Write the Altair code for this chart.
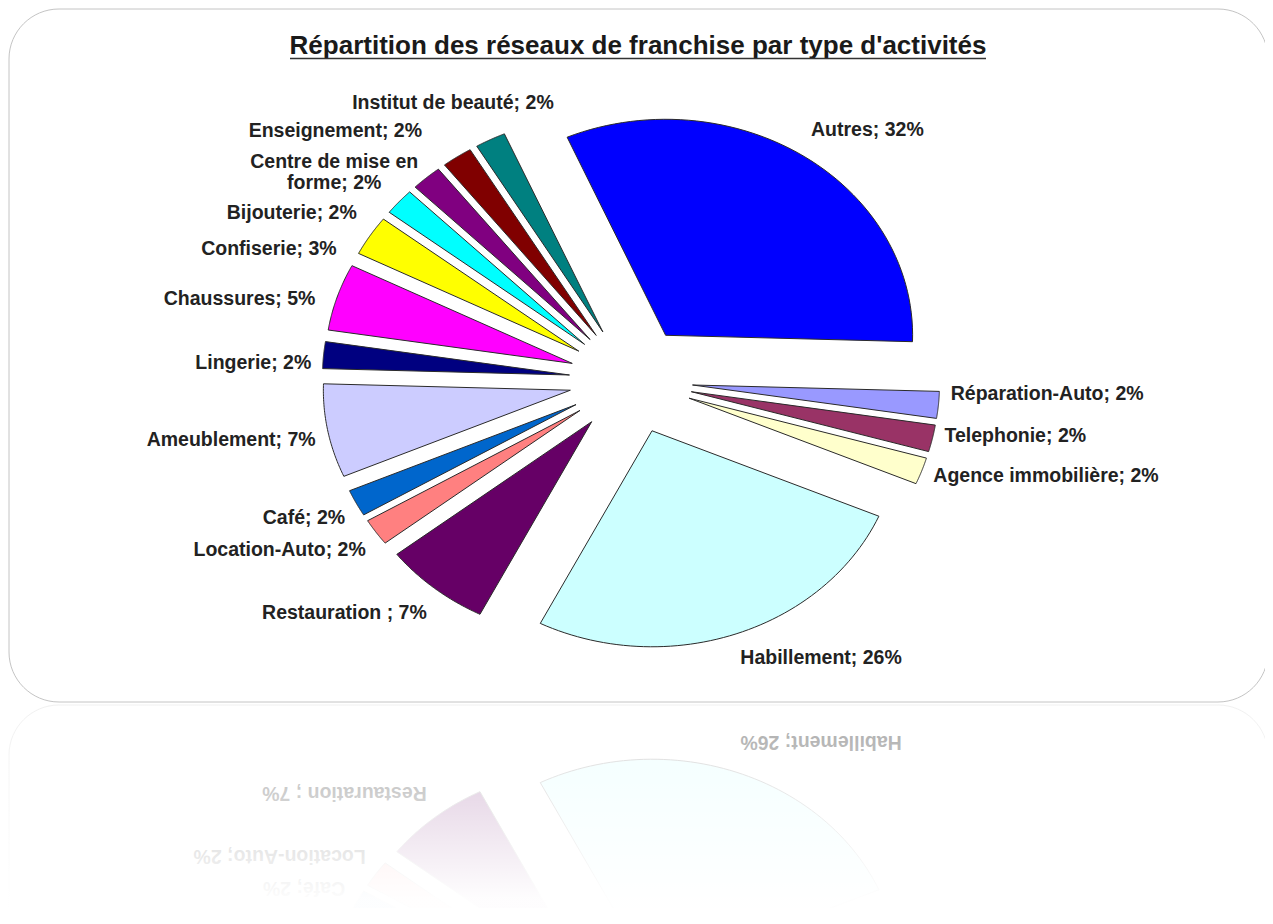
import altair as alt
import pandas as pd

# ---------------- data ----------------
categories = ["Autres", "Réparation-Auto", "Telephonie", "Agence immobilière", "Habillement",
              "Restauration ", "Location-Auto", "Café", "Ameublement", "Lingerie", "Chaussures",
              "Confiserie", "Bijouterie", "Centre de mise en\nforme", "Enseignement",
              "Institut de beauté"]
shares = [32, 2, 2, 2, 26, 7, 2, 2, 7, 2, 5, 3, 2, 2, 2, 2]
colors = ["#0000FF", "#9999FF", "#993366", "#FFFFCC", "#CCFFFF", "#660066", "#FF8080", "#0066CC",
          "#CCCCFF", "#000080", "#FF00FF", "#FFFF00", "#00FFFF", "#800080", "#800000", "#008080"]
title_text = "Répartition des réseaux de franchise par type d'activités"

df = pd.DataFrame({"i": list(range(len(categories))), "cat": categories, "pct": shares})
df["label"] = [f"{c}; {p}%" for c, p in zip(categories, shares)]

# ---------------- geometry / style constants ----------------
W, H = 1257, 900
CX, CY = 623, 372          # pie centre (chart px)
RX, RY = 247, 216          # elliptical pie radii
START = -23.5              # first slice start angle (deg, clockwise from 12 o'clock)
EXPLODE = 0.25
LX, LY = 1.30, 1.40        # label radius factors
MIRROR_Y = 695             # reflection axis (chart px)
MIRROR = (CY - MIRROR_Y) / RY
NPTS = 60
FONT = "Liberation Sans"
TXT = "#222222"
FS = 19.5

# manual label nudges (align, dx, dy) mimicking the spreadsheet's label placement
NUDGE = {
    "Institut de beauté": ("right", 69, -8),
    "Enseignement": ("right", -28, 1),
    "Centre de mise en\nforme": ("center", -84, 8),
    "Bijouterie": ("right", -33, 33),
    "Confiserie": ("right", -23, 31),
    "Chaussures": ("right", -10, 12),
    "Lingerie": ("right", 0, 11),
    "Ameublement": ("right", 0, 3),
    "Habillement": ("left", 0, -6),
    "Agence immobilière": ("left", 0, -6),
    "Telephonie": ("left", 0, -9),
    "Réparation-Auto": ("left", 0, -14),
}

xs = alt.Scale(domain=[-1, 1], range=[CX - RX, CX + RX], nice=False, zero=False)
ys = alt.Scale(domain=[-1, 1], range=[CY + RY, CY - RY], nice=False, zero=False)
fill_scale = alt.Scale(domain=categories, range=colors)


def base():
    return (alt.Chart(df)
            .transform_window(cum="sum(pct)", sort=[alt.SortField("i", order="ascending")],
                              frame=[None, 0])
            .transform_calculate(
                a0=f"((datum.cum - datum.pct) * 3.6 + ({START})) * PI / 180",
                a1=f"(datum.cum * 3.6 + ({START})) * PI / 180")
            .transform_calculate(am="(datum.a0 + datum.a1) / 2")
            .transform_calculate(ex=f"{EXPLODE} * sin(datum.am)",
                                 ey=f"{EXPLODE} * cos(datum.am)"))


def polys(reflect=False):
    b = (base()
         .transform_calculate(ks=f"sequence(0, {NPTS + 3})")
         .transform_flatten(["ks"], as_=["k"])
         .transform_calculate(apex=f"datum.k == 0 || datum.k == {NPTS + 2}",
                              ang=f"datum.a0 + (datum.k - 1) / {NPTS} * (datum.a1 - datum.a0)")
         .transform_calculate(px="datum.ex + (datum.apex ? 0 : sin(datum.ang))",
                              py0="datum.ey + (datum.apex ? 0 : cos(datum.ang))"))
    if reflect:
        b = b.transform_calculate(py=f"{2 * MIRROR} - datum.py0")
        mark = b.mark_line(stroke="#666666", strokeWidth=1, opacity=0.28)
    else:
        b = b.transform_calculate(py="datum.py0")
        mark = b.mark_line(stroke="#2a2a2a", strokeWidth=1)
    return mark.encode(
        x=alt.X("px:Q", scale=xs, axis=None),
        y=alt.Y("py:Q", scale=ys, axis=None),
        order=alt.Order("k:Q"),
        detail="cat:N",
        fill=alt.Fill("cat:N", scale=fill_scale, legend=None),
    )


def label_base():
    return base().transform_calculate(lx=f"{LX} * sin(datum.am)", ly0=f"{LY} * cos(datum.am)")


def text_enc(mark):
    return mark.encode(
        x=alt.X("lx:Q", scale=xs, axis=None),
        y=alt.Y("ly:Q", scale=ys, axis=None),
        text="label:N",
    )


def labels_group(cats, align, dx=0, dy=0):
    b = (label_base()
         .transform_filter(alt.FieldOneOfPredicate(field="cat", oneOf=cats))
         .transform_calculate(ly="datum.ly0"))
    mark = b.mark_text(font=FONT, fontWeight="bold", fontSize=FS, color=TXT, align=align,
                       baseline="middle", lineBreak="\n", lineHeight=21, dx=dx, dy=dy)
    return text_enc(mark)


def labels_reflected(side):
    b = (label_base()
         .transform_filter("sin(datum.am) >= 0" if side == "right" else "sin(datum.am) < 0")
         .transform_calculate(ly=f"{2 * MIRROR} - datum.ly0")
         .transform_filter(f"{CY} - {RY} * datum.ly < {H - 16}"))
    align = "right" if side == "right" else "left"
    mark = b.mark_text(font=FONT, fontWeight="bold", fontSize=FS, color=TXT, align=align,
                       baseline="middle", lineBreak="\n", lineHeight=21, angle=180,
                       opacity=0.42)
    return text_enc(mark)


one = alt.Data(values=[{"t": title_text}])

card = alt.Chart(one).mark_rect(fill="white", stroke="#c4c4c4", strokeWidth=1,
                                cornerRadius=50).encode(
    x=alt.value(1), x2=alt.value(1260), y=alt.value(1), y2=alt.value(694))
card_ref = alt.Chart(one).mark_rect(fill="white", stroke="#f0f0f0", strokeWidth=1,
                                    cornerRadius=50).encode(
    x=alt.value(1), x2=alt.value(1260), y=alt.value(697), y2=alt.value(1100))

fade = alt.Chart(one).mark_rect(
    fill=alt.LinearGradient(
        gradient="linear",
        stops=[alt.GradientStop(color="rgba(255,255,255,0.05)", offset=0),
               alt.GradientStop(color="rgba(255,255,255,0.97)", offset=0.95)],
        x1=0, x2=0, y1=0, y2=1)
).encode(x=alt.value(0), x2=alt.value(W), y=alt.value(MIRROR_Y), y2=alt.value(H))

title = alt.Chart(one).mark_text(font=FONT, fontWeight="bold", fontSize=26, color="#1a1a1a",
                                 align="center", baseline="alphabetic").encode(
    x=alt.value(630), y=alt.value(46), text="t:N")
underline = alt.Chart(one).mark_rule(stroke="#333333", strokeWidth=1.5).encode(
    x=alt.value(282), x2=alt.value(978), y=alt.value(50.5))

# label layers: un-nudged ones grouped by side, nudged ones one layer each
left_plain = [c for c in ["Restauration ", "Location-Auto", "Café"] if c not in NUDGE]
right_plain = [c for c in ["Autres"] if c not in NUDGE]
label_layers = [labels_group(left_plain, "right"), labels_group(right_plain, "left")]
for cat, (al, dx, dy) in NUDGE.items():
    label_layers.append(labels_group([cat], al, dx, dy))

chart = alt.layer(
    card, card_ref,
    polys(reflect=True), labels_reflected("left"), labels_reflected("right"),
    fade,
    polys(), *label_layers,
    title, underline,
).properties(
    width=W, height=H, padding=0,
    autosize=alt.AutoSizeParams(type="none"),
    background="white",
).configure_view(stroke="transparent")

chart.save("out.html", embed_options={"renderer": "svg", "actions": False})
